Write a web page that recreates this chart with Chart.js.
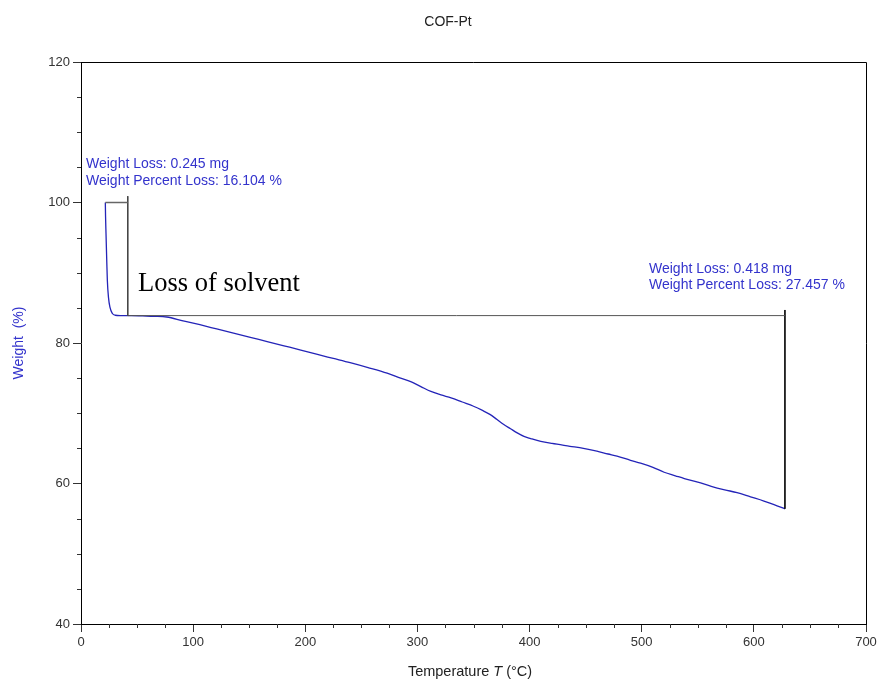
<!DOCTYPE html>
<html>
<head>
<meta charset="utf-8">
<script src="https://cdn.jsdelivr.net/npm/chart.js@4.4.1/dist/chart.umd.min.js"></script>
<style>
    html, body { margin: 0; padding: 0; background: #fff; }
    #wrap { width: 883px; height: 683px; }
</style>
</head>
<body>
<div id="wrap"><canvas id="tgaChart" width="883" height="683"></canvas></div>
<script>
// TGA curve (temperature in °C, weight in %)
const temps = [21.7, 21.9, 22.3, 23.0, 23.5, 24.5, 25.8, 28, 30.5, 35, 45, 55, 65, 76.5,
    90, 106, 121, 136, 151, 166, 181, 196, 210, 225, 240, 256, 273, 285, 294, 303,
    312, 321, 330, 340, 350, 358, 365, 371, 377, 383, 389, 395, 401, 410, 420, 436,
    448, 460, 470, 478, 490, 499, 510, 520, 530, 538, 550, 562, 574, 585, 597, 609,
    618, 627.7];
const weights = [100.0, 98.0, 95.6, 91.5, 88.9, 86.5, 85.1, 84.2, 83.95, 83.9, 83.9, 83.85, 83.8, 83.7,
    83.2, 82.6, 82.0, 81.4, 80.8, 80.2, 79.6, 79.0, 78.4, 77.8, 77.2, 76.5, 75.7, 75.0, 74.5, 73.8,
    73.1, 72.6, 72.2, 71.6, 71.0, 70.4, 69.8, 69.1, 68.4, 67.8, 67.2, 66.7, 66.4, 66.0, 65.7, 65.3,
    65.0, 64.6, 64.2, 63.9, 63.3, 62.9, 62.3, 61.6, 61.1, 60.7, 60.2, 59.6, 59.1, 58.7, 58.1, 57.5,
    57.0, 56.4];

// step markers (weight loss brackets)
const step1Start = 21.7;
const step1End = 41.7;
const step2End = 627.7;
const step1Top = 100.0;
const plateau = 83.9;
const finalWeight = 56.4;

const xTicks = [0, 100, 200, 300, 400, 500, 600, 700];
const yTicks = [40, 60, 80, 100, 120];

const labelsStep1 = ['Weight Loss: 0.245 mg', 'Weight Percent Loss: 16.104 %'];
const labelsStep2 = ['Weight Loss: 0.418 mg', 'Weight Percent Loss: 27.457 %'];

const curve = temps.map((t, i) => ({ x: t, y: weights[i] }));

const sans = '"Liberation Sans", Arial, sans-serif';
const blue = '#3333cc';

// frame, minor ticks and the text annotations
const extras = {
    id: 'extras',
    afterDraw(chart) {
        const ctx = chart.ctx;
        const a = chart.chartArea;
        const xs = chart.scales.x;
        const ys = chart.scales.y;
        ctx.save();

        // box on top and right
        ctx.strokeStyle = '#000';
        ctx.lineWidth = 1;
        ctx.beginPath();
        ctx.moveTo(a.left, a.top + 0.5);
        ctx.lineTo(a.right + 0.5, a.top + 0.5);
        ctx.lineTo(a.right + 0.5, a.bottom);
        ctx.stroke();

        // minor ticks
        ctx.strokeStyle = '#333';
        ctx.beginPath();
        for (let v = 25; v < 700; v += 25) {
            if (v % 100 === 0) continue;
            const px = Math.round(xs.getPixelForValue(v)) + 0.5;
            ctx.moveTo(px, a.bottom);
            ctx.lineTo(px, a.bottom + 4);
        }
        for (let v = 45; v < 120; v += 5) {
            if (v % 20 === 0) continue;
            const py = Math.round(ys.getPixelForValue(v)) + 0.5;
            ctx.moveTo(a.left, py);
            ctx.lineTo(a.left - 4, py);
        }
        ctx.stroke();

        // title
        ctx.fillStyle = '#222';
        ctx.font = '14px ' + sans;
        ctx.textAlign = 'center';
        ctx.textBaseline = 'middle';
        ctx.fillText('COF-Pt', 448, 22);

        // annotations
        ctx.textAlign = 'left';
        ctx.fillStyle = blue;
        ctx.font = '14px ' + sans;
        ctx.fillText(labelsStep1[0], 86, 164);
        ctx.fillText(labelsStep1[1], 86, 181);
        ctx.fillText(labelsStep2[0], 649, 269);
        ctx.fillText(labelsStep2[1], 649, 285);

        ctx.fillStyle = '#000';
        ctx.font = '26.5px "Liberation Serif", "Times New Roman", serif';
        ctx.fillText('Loss of solvent', 138, 284);

        // y axis title
        ctx.save();
        ctx.translate(19, 343);
        ctx.rotate(-Math.PI / 2);
        ctx.textAlign = 'center';
        ctx.fillStyle = blue;
        ctx.font = '14px ' + sans;
        ctx.fillText('Weight  (%)', 0, 0);
        ctx.restore();

        // x axis title with italic T
        ctx.fillStyle = '#222';
        const p1 = 'Temperature ', p2 = 'T', p3 = ' (\u00b0C)';
        const f = '14.5px ' + sans;
        const fi = 'italic 14.5px ' + sans;
        ctx.font = f;
        const w1 = ctx.measureText(p1).width;
        const w3 = ctx.measureText(p3).width;
        ctx.font = fi;
        const w2 = ctx.measureText(p2).width;
        const x0 = 470 - (w1 + w2 + w3) / 2;
        ctx.font = f;
        ctx.fillText(p1, x0, 672);
        ctx.font = fi;
        ctx.fillText(p2, x0 + w1, 672);
        ctx.font = f;
        ctx.fillText(p3, x0 + w1 + w2, 672);

        ctx.restore();
    }
};

const ctxTga = document.getElementById('tgaChart').getContext('2d');
const tgaChart = new Chart(ctxTga, {
    type: 'line',
    data: {
        datasets: [
            {
                label: 'step 1 top',
                data: [{ x: step1Start, y: step1Top }, { x: step1End, y: step1Top }],
                borderColor: '#666', borderWidth: 1.5, pointRadius: 0
            },
            {
                label: 'step 1 side',
                data: [{ x: step1End, y: step1Top + 0.9 }, { x: step1End, y: plateau }],
                borderColor: '#444', borderWidth: 1, pointRadius: 0
            },
            {
                label: 'step 2 top',
                data: [{ x: step1End, y: plateau }, { x: step2End, y: plateau }],
                borderColor: '#555', borderWidth: 1, pointRadius: 0
            },
            {
                label: 'step 2 side',
                data: [{ x: step2End, y: plateau + 0.8 }, { x: step2End, y: finalWeight }],
                borderColor: '#111', borderWidth: 1, pointRadius: 0
            },
            {
                label: 'Weight',
                data: curve,
                borderColor: '#2424b8',
                borderWidth: 1.3,
                pointRadius: 0,
                tension: 0.3,
                cubicInterpolationMode: 'monotone'
            }
        ]
    },
    options: {
        responsive: false,
        animation: false,
        layout: { padding: { left: 0, right: 17, top: 62, bottom: 0 } },
        plugins: {
            legend: { display: false },
            title: { display: false },
            tooltip: { enabled: false }
        },
        scales: {
            x: {
                type: 'linear',
                min: 0, max: 700,
                afterFit: s => { s.height = 59; },
                afterBuildTicks: s => { s.ticks = xTicks.map(v => ({ value: v })); },
                ticks: { color: '#333', font: { size: 13, family: sans }, padding: 3, maxRotation: 0 },
                grid: { drawOnChartArea: false, drawTicks: true, tickLength: 8, color: '#333' },
                border: { display: true, color: '#000', width: 1 }
            },
            y: {
                type: 'linear',
                min: 40, max: 120,
                afterFit: s => { s.width = 81; },
                afterBuildTicks: s => { s.ticks = yTicks.map(v => ({ value: v })); },
                ticks: { color: '#333', font: { size: 13, family: sans }, padding: 3 },
                grid: { drawOnChartArea: false, drawTicks: true, tickLength: 8, color: '#333' },
                border: { display: true, color: '#000', width: 1 }
            }
        }
    },
    plugins: [extras]
});
</script>
</body>
</html>
